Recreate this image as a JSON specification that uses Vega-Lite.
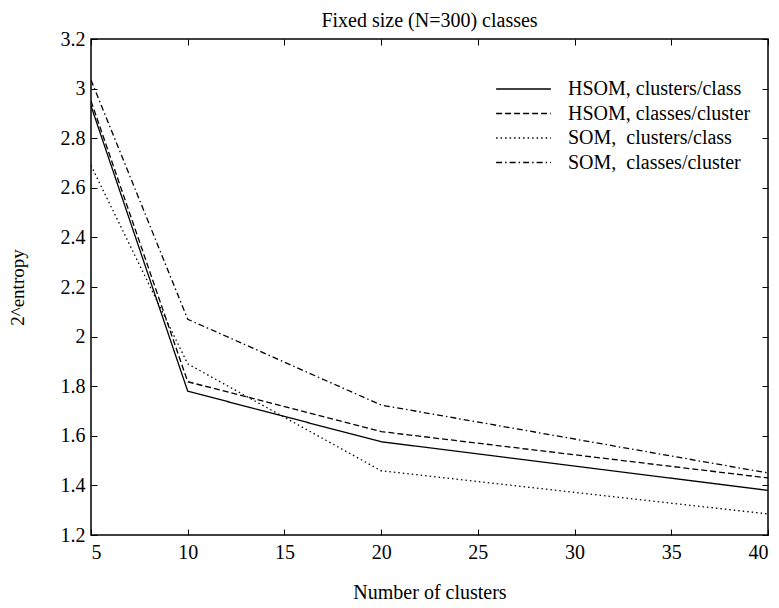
{
  "$schema": "https://vega.github.io/schema/vega-lite/v6.json",
  "autosize": {"type": "none"},
  "padding": {"left": 91, "top": 39, "right": 11, "bottom": 73},
  "width": 677,
  "height": 496,
  "background": "white",
  "title": {"text": "Fixed size (N=300) classes", "font": "Liberation Serif", "fontSize": 20, "fontWeight": "normal", "color": "black", "offset": -2},
  "config": {
    "view": {"stroke": "black", "strokeWidth": 1.5}
  },
  "data": {"values": [
    {"n": 5, "series": "HSOM, clusters/class", "v": 2.93},
    {"n": 10, "series": "HSOM, clusters/class", "v": 1.78},
    {"n": 20, "series": "HSOM, clusters/class", "v": 1.576},
    {"n": 40, "series": "HSOM, clusters/class", "v": 1.38},
    {"n": 5, "series": "HSOM, classes/cluster", "v": 2.95},
    {"n": 10, "series": "HSOM, classes/cluster", "v": 1.818},
    {"n": 20, "series": "HSOM, classes/cluster", "v": 1.617},
    {"n": 40, "series": "HSOM, classes/cluster", "v": 1.43},
    {"n": 5, "series": "SOM, clusters/class", "v": 2.69},
    {"n": 10, "series": "SOM, clusters/class", "v": 1.89},
    {"n": 20, "series": "SOM, clusters/class", "v": 1.459},
    {"n": 40, "series": "SOM, clusters/class", "v": 1.285},
    {"n": 5, "series": "SOM, classes/cluster", "v": 3.035},
    {"n": 10, "series": "SOM, classes/cluster", "v": 2.07},
    {"n": 20, "series": "SOM, classes/cluster", "v": 1.724},
    {"n": 40, "series": "SOM, classes/cluster", "v": 1.45}
  ]},
  "layer": [
    {
      "mark": {"type": "line", "color": "black", "strokeWidth": 1.3, "clip": true},
      "encoding": {
        "x": {"field": "n", "type": "quantitative", "scale": {"domain": [5, 40], "nice": false, "zero": false},
          "axis": {"values": [5,10,15,20,25,30,35,40], "format": ".1~f", "title": "Number of clusters", "grid": false, "domain": false, "tickColor": "black", "tickSize": -6, "labelFont": "Liberation Serif", "labelFontSize": 20, "labelColor": "black", "labelPadding": 13, "titleFont": "Liberation Serif", "titleFontSize": 20, "titleFontWeight": "normal", "titleColor": "black", "titlePadding": 20}},
        "y": {"field": "v", "type": "quantitative", "scale": {"domain": [1.2, 3.2], "nice": false, "zero": false},
          "axis": {"values": [1.2,1.4,1.6,1.8,2,2.2,2.4,2.6,2.8,3,3.2], "format": ".1~f", "title": "2^entropy", "grid": false, "domain": false, "tickColor": "black", "tickSize": -6, "labelFont": "Liberation Serif", "labelFontSize": 20, "labelColor": "black", "labelPadding": 12, "titleFont": "Liberation Serif", "titleFontSize": 19, "titleFontWeight": "normal", "titleColor": "black", "titlePadding": 33}},
        "strokeDash": {"field": "series", "type": "nominal",
          "scale": {"domain": ["HSOM, clusters/class", "HSOM, classes/cluster", "SOM, clusters/class", "SOM, classes/cluster"], "range": [[1, 0], [6, 3], [1.5, 3], [6, 3, 1.5, 3]]},
          "legend": {"title": null, "orient": "none", "legendX": 404, "legendY": 39, "symbolType": "stroke", "symbolSize": 3000, "symbolStrokeWidth": 1.3, "symbolStrokeColor": "black", "labelFont": "Liberation Serif", "labelFontSize": 20, "labelColor": "black", "labelLimit": 400, "clipHeight": 22, "rowPadding": 2.5, "symbolOffset": 0, "labelOffset": 16,
            "labelExpr": "indexof(datum.label, 'HSOM') == 0 ? datum.label : replace(datum.label, ', ', ',\u00a0\u00a0')"}}
      }
    },
    {
      "mark": {"type": "line", "opacity": 0},
      "encoding": {
        "x": {"field": "n", "type": "quantitative", "axis": {"orient": "top", "values": [5,10,15,20,25,30,35,40], "labels": false, "title": null, "grid": false, "domain": false, "tickColor": "black", "tickSize": -6}},
        "y": {"field": "v", "type": "quantitative", "axis": {"orient": "right", "values": [1.2,1.4,1.6,1.8,2,2.2,2.4,2.6,2.8,3,3.2], "labels": false, "title": null, "grid": false, "domain": false, "tickColor": "black", "tickSize": -6}}
      }
    }
  ],
  "resolve": {"axis": {"x": "independent", "y": "independent"}}
}
